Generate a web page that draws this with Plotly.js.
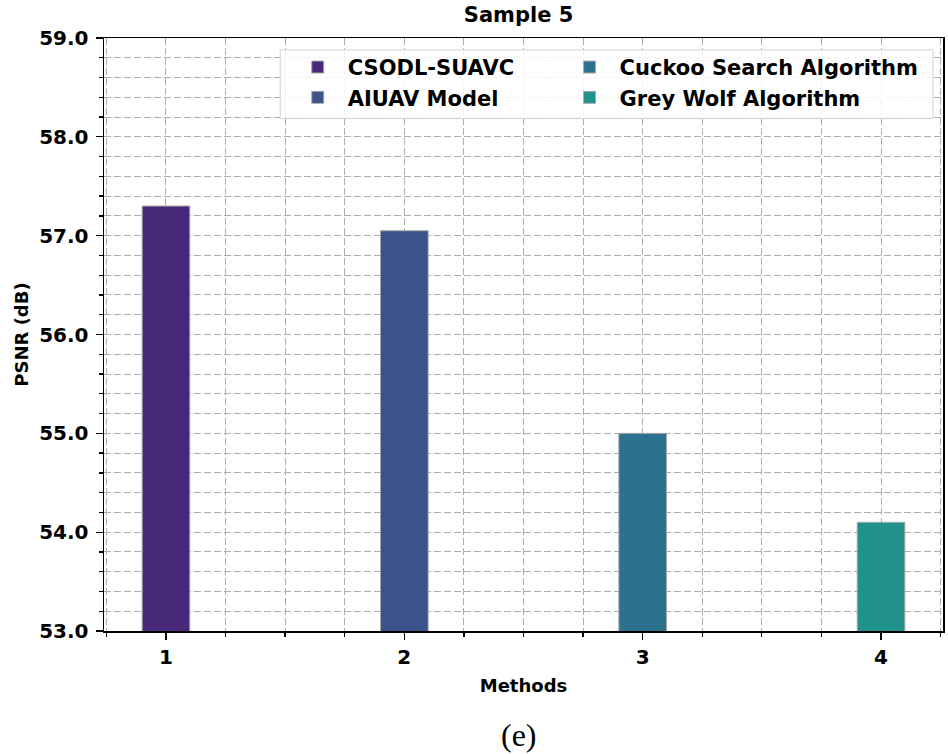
<!DOCTYPE html>
<html>
<head>
<meta charset="utf-8">
<script src="https://cdn.plot.ly/plotly-3.0.1.min.js"></script>
<style>html,body{margin:0;padding:0;background:#fff;}#chart{width:948px;height:754px;}</style>
</head>
<body>
<div id="chart"></div>
<script>
const methods = [1, 2, 3, 4];
const methodNames = ["CSODL-SUAVC", "AIUAV Model", "Cuckoo Search Algorithm", "Grey Wolf Algorithm"];
const psnr = [57.3, 57.05, 55.0, 54.1];
const barColors = ["#482878", "#3b528b", "#2c728e", "#21918c"];
const legendIds = ["legend", "legend", "legend2", "legend2"];
const yTicks = [53, 54, 55, 56, 57, 58, 59];

const FONT = "DejaVu Sans, sans-serif";
const gridCol = "#aeaeae";
const gridDash = "7px,3px";

const traces = methods.map((m, i) => ({
  type: "bar",
  x: [m],
  y: [psnr[i]],
  name: methodNames[i],
  legend: legendIds[i],
  legendgroup: "g" + i,
  width: 0.2,
  marker: { color: barColors[i], line: { color: "#a9a9a9", width: 1 } },
  hoverinfo: "x+y+name"
}));

const legendCommon = {
  orientation: "v",
  yanchor: "top", y: 0.985,
  xanchor: "left",
  bgcolor: "rgba(0,0,0,0)", borderwidth: 0,
  itemwidth: 50,
  tracegroupgap: 6,
  font: { family: FONT, size: 21, weight: "bold", color: "#000" },
  traceorder: "normal"
};

const layout = {
  width: 948, height: 754,
  margin: { l: 104, r: 5, t: 38, b: 123 },
  paper_bgcolor: "#fff", plot_bgcolor: "#fff",
  barmode: "overlay",
  font: { family: FONT, color: "#000", size: 19, weight: "bold" },
  title: { text: "<b>Sample 5</b>", x: 0.547, xanchor: "center", y: 0.98, yanchor: "middle", font: { family: FONT, size: 21, color: "#000" } },
  xaxis: {
    range: [0.74, 4.26],
    tickvals: methods, ticktext: methods.map(String),
    ticks: "outside", ticklen: 7, tickwidth: 1.3, tickcolor: "#000",
    showline: true, linecolor: "#000", linewidth: 1.5, mirror: true,
    showgrid: true, gridcolor: gridCol, griddash: gridDash, gridwidth: 1,
    zeroline: false,
    tickfont: { family: FONT, size: 20, weight: "bold" },
    minor: { dtick: 0.25, tick0: 0, ticks: "outside", ticklen: 4, tickcolor: "#000", showgrid: true, gridcolor: gridCol, griddash: gridDash, gridwidth: 1 },
    title: { text: "<b>Methods</b>", font: { family: FONT, size: 18 }, standoff: 12 }
  },
  yaxis: {
    range: [53, 59],
    tickvals: yTicks, tickformat: ".1f",
    ticks: "outside", ticklen: 7, tickwidth: 1.3, tickcolor: "#000",
    ticklabelstandoff: 3,
    showline: true, linecolor: "#000", linewidth: 1.5, mirror: true,
    showgrid: true, gridcolor: gridCol, griddash: gridDash, gridwidth: 1,
    zeroline: false,
    tickfont: { family: FONT, size: 20, weight: "bold" },
    minor: { dtick: 0.2, tick0: 53, ticks: "outside", ticklen: 4, tickcolor: "#000", showgrid: true, gridcolor: gridCol, griddash: gridDash, gridwidth: 1 },
    title: { text: "<b>PSNR (dB)</b>", font: { family: FONT, size: 18 }, standoff: 6 }
  },
  legend: Object.assign({}, legendCommon, { x: 0.219 }),
  legend2: Object.assign({}, legendCommon, { x: 0.543 }),
  shapes: [{
    type: "rect", xref: "paper", yref: "paper", layer: "above",
    x0: 0.21, x1: 0.988, y0: 0.864, y1: 0.98,
    fillcolor: "rgba(255,255,255,0.85)",
    line: { color: "#d0d0d0", width: 1 }
  }],
  annotations: [{
    text: "(e)", xref: "paper", yref: "paper", x: 0.495, y: -0.175, xanchor: "center", yanchor: "middle",
    showarrow: false, font: { family: "Liberation Serif, Times New Roman, serif", size: 32, color: "#000", weight: "normal" }
  }],
  showlegend: true
};

Plotly.newPlot("chart", traces, layout, { displayModeBar: false, staticPlot: true });
</script>
</body>
</html>
